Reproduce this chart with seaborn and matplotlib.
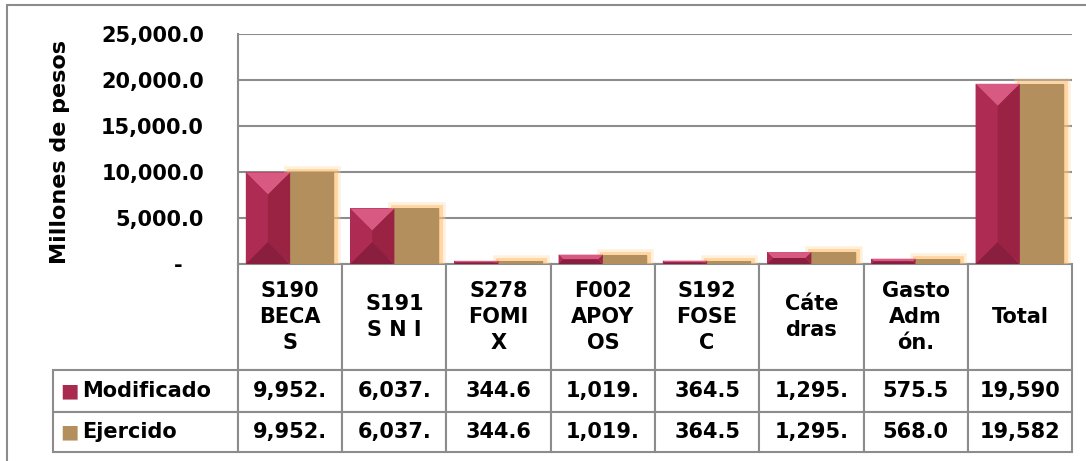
import pandas as pd
import matplotlib
matplotlib.use('Agg')
import matplotlib.pyplot as plt
import seaborn as sns
from matplotlib import patheffects as pe
from matplotlib.patches import Polygon, Rectangle
from matplotlib.ticker import FuncFormatter, MultipleLocator

# datos (millones de pesos)
programas = ['S190\nBECA\nS', 'S191\nS N I', 'S278\nFOMI\nX', 'F002\nAPOY\nOS',
             'S192\nFOSE\nC', 'Cáte\ndras', 'Gasto\nAdm\nón.', 'Total']
modificado = [9952.8, 6037.7, 344.6, 1019.6, 364.5, 1295.5, 575.5, 19590.2]
ejercido = [9952.8, 6037.7, 344.6, 1019.6, 364.5, 1295.5, 568.0, 19582.7]
series = ['Modificado', 'Ejercido']
colores = ['#A9294F', '#B38F5E']

df = pd.DataFrame({
    'Programa': programas * 2,
    'Monto': modificado + ejercido,
    'Serie': [series[0]] * len(programas) + [series[1]] * len(programas),
})

sns.set_style('white')
plt.rcParams['font.family'] = ['DejaVu Sans']
plt.rcParams['font.weight'] = 'bold'
plt.rcParams['text.color'] = 'black'
plt.rcParams['axes.labelcolor'] = 'black'
plt.rcParams['ytick.color'] = 'black'
gris = '#8c8c8c'

fig = plt.figure(figsize=(10.86, 4.61), dpi=100)
ax = fig.add_axes([238 / 1086, 197 / 461, 834 / 1086, 230 / 461])

sns.barplot(data=df, x='Programa', y='Monto', hue='Serie', order=programas,
            hue_order=series, palette=colores, saturation=1, width=0.85,
            errorbar=None, legend=False, ax=ax)

ax.set_xlim(-0.5, len(programas) - 0.5)
ax.set_ylim(0, 25000)
ax.yaxis.set_major_locator(MultipleLocator(5000))
ax.yaxis.set_major_formatter(FuncFormatter(lambda v, p: '-   ' if v == 0 else f'{v:,.1f}'))
ax.tick_params(axis='y', length=0, pad=24.5, labelsize=15, labelcolor='black')
ax.tick_params(axis='x', length=0, labelbottom=False)
ax.set_xlabel('')
ax.set_ylabel('Millones de pesos', fontsize=16, fontweight='bold', color='black')
ax.yaxis.set_label_coords(-168 / 834, 0.487)
ax.grid(axis='y', color=gris, lw=1.5)
ax.set_axisbelow(True)
for s in ['top', 'right', 'bottom']:
    ax.spines[s].set_visible(False)
ax.spines['left'].set_color(gris)
ax.spines['left'].set_linewidth(1.5)

# efecto biselado en Modificado
sx = ax.transData.transform((1, 0))[0] - ax.transData.transform((0, 0))[0]
sy = ax.transData.transform((0, 1))[1] - ax.transData.transform((0, 0))[1]
for p in ax.containers[0]:
    p.set_linewidth(0)
    x, y, w, h = p.get_x(), p.get_y(), p.get_width(), p.get_height()
    d = min(w * sx, h * sy) / 2
    dx, dy = d / sx, d / sy
    caras = [
        ([(x, y + h), (x + w, y + h), (x + w - dx, y + h - dy), (x + dx, y + h - dy)], '#D85A82'),
        ([(x, y), (x + w, y), (x + w - dx, y + dy), (x + dx, y + dy)], '#8A1E3E'),
        ([(x, y), (x + dx, y + dy), (x + dx, y + h - dy), (x, y + h)], '#AE2B53'),
        ([(x + w, y), (x + w - dx, y + dy), (x + w - dx, y + h - dy), (x + w, y + h)], '#9A2344'),
    ]
    for pts, c in caras:
        ax.add_patch(Polygon(pts, closed=True, facecolor=c, edgecolor='none', zorder=p.get_zorder() + 0.1))

# brillo suave en Ejercido
for p in ax.containers[1]:
    p.set_linewidth(0)
    p.set_path_effects([
        pe.Stroke(linewidth=9, foreground='#FFD59A', alpha=0.35),
        pe.Stroke(linewidth=5, foreground='#FFB860', alpha=0.45),
        pe.Normal(),
    ])

# tabla de datos
def fmt(v):
    return f'{v:,.1f}'[:6]

cell_text = [[s] + [fmt(v) for v in vals] for s, vals in zip(series, [modificado, ejercido])]
col_labels = [''] + programas
anchos = [185] + [834 / len(programas)] * len(programas)
anchos = [a / sum(anchos) for a in anchos]
tbl = ax.table(cellText=cell_text, colLabels=col_labels, colWidths=anchos,
               cellLoc='center', bbox=[-185 / 834, -188 / 230, 1019 / 834, 188 / 230])
tbl.auto_set_font_size(False)
tbl.set_fontsize(15)
altos = {0: 106, 1: 42, 2: 40}
for (r, c), cell in tbl.get_celld().items():
    cell.set_edgecolor(gris)
    cell.set_linewidth(1.5)
    cell.set_height(altos[r] / 230)
    t = cell.get_text()
    t.set_fontweight('bold')
    t.set_color('black')
    t.set_linespacing(1.35)
    if r == 0 and c == 0:
        cell.visible_edges = ''
    elif c == 0:
        cell._loc = 'left'
        cell.PAD = 0.16
        t.set_horizontalalignment('left')

for i, (s, c) in enumerate(zip(series, colores)):
    ax.text(-169 / 834, [-127 / 230, -168 / 230][i], '■', color=c, fontsize=14,
            ha='center', va='center', transform=ax.transAxes, clip_on=False, zorder=10)

fig.patches.append(Rectangle((7 / 1086, -0.1), 1.2, 1.1 - 5 / 461, transform=fig.transFigure,
                             fill=False, edgecolor=gris, linewidth=1.5))

fig.savefig('out.png', dpi=100)
